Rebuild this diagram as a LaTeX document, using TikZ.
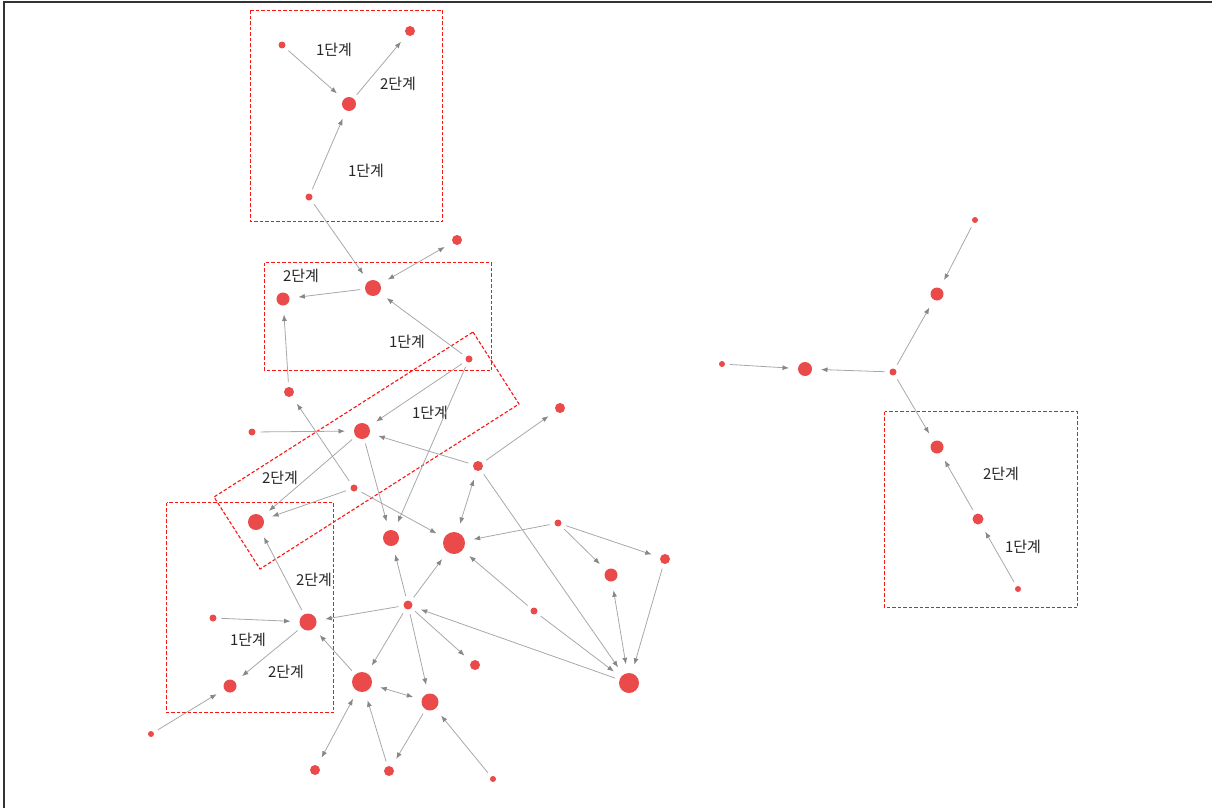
\documentclass[tikz,border=0pt]{standalone}
\usepackage{fontspec}
\setmainfont{Noto Sans CJK KR}
\usepackage{xcolor}
\usepackage{tikz}
\usetikzlibrary{arrows.meta,backgrounds}
\definecolor{dotred}{RGB}{234,74,74}
\definecolor{linkgray}{RGB}{168,168,168}
\definecolor{tipgray}{RGB}{135,135,135}
\definecolor{zonered}{RGB}{250,20,20}
\tikzset{
  gndot/.style={circle,fill=dotred,inner sep=0pt,outer sep=0pt,minimum size=#1},
  gndot/.default=7pt,
  gnlink/.style={-{Latex[length=6.5pt,width=5pt,color=tipgray]},draw=linkgray,
    line width=0.8pt,shorten <=5pt,shorten >=9pt},
  gnboth/.style={{Latex[length=6.5pt,width=5pt,color=tipgray]}-{Latex[length=6.5pt,width=5pt,color=tipgray]},
    draw=linkgray,line width=0.8pt,shorten <=9pt,shorten >=9pt},
  gnzone/.style={draw=zonered,line width=1.1pt,dash pattern=on 3.5pt off 2pt},
  gnstage/.style={inner sep=0pt,text=black!85,font=\fontsize{15}{17}\selectfont},
}

\begin{document}
\begin{tikzpicture}[x=1pt,y=-1pt]
\useasboundingbox (0,0) rectangle (1212,808);
\draw[black!80,line width=1.3pt] (4,808) -- (4,2) -- (1212,2);
\node[gndot=7pt] (a1) at (282,45) {};
\node[gndot=10pt] (a2) at (410,31) {};
\node[gndot=14pt] (a3) at (349,104) {};
\node[gndot=7pt] (a4) at (309,197) {};
\node[gndot=16pt] (b1) at (373,288) {};
\node[gndot=10pt] (b2) at (457,240) {};
\node[gndot=13pt] (b3) at (283,299) {};
\node[gndot=7pt] (b4) at (469,359) {};
\node[gndot=10pt] (b5) at (289,392) {};
\node[gndot=16pt] (c1) at (362,431) {};
\node[gndot=7pt] (c2) at (252,432) {};
\node[gndot=7pt] (c3) at (354,488) {};
\node[gndot=16pt] (c4) at (256,522) {};
\node[gndot=10pt] (c5) at (478,466) {};
\node[gndot=10pt] (c6) at (560,408) {};
\node[gndot=16pt] (c7) at (391,538) {};
\node[gndot=22pt] (c8) at (454,543) {};
\node[gndot=17pt] (d1) at (308,622) {};
\node[gndot=7pt] (d2) at (213,618) {};
\node[gndot=13pt] (d3) at (230,686) {};
\node[gndot=6pt] (d4) at (151,734) {};
\node[gndot=9pt] (e1) at (408,605) {};
\node[gndot=20pt] (e2) at (362,682) {};
\node[gndot=17pt] (e3) at (430,702) {};
\node[gndot=10pt] (e4) at (475,665) {};
\node[gndot=20pt] (e5) at (629,683) {};
\node[gndot=10pt] (e6) at (315,770) {};
\node[gndot=10pt] (e7) at (389,771) {};
\node[gndot=6pt] (e8) at (493,779) {};
\node[gndot=7pt] (e9) at (534,611) {};
\node[gndot=7pt] (e10) at (558,523) {};
\node[gndot=13pt] (e11) at (611,575) {};
\node[gndot=10pt] (e12) at (665,559) {};
\node[gndot=6pt] (f1) at (975,220) {};
\node[gndot=13pt] (f2) at (937,294) {};
\node[gndot=6pt] (f3) at (722,364) {};
\node[gndot=14pt] (f4) at (805,369) {};
\node[gndot=7pt] (f5) at (893,372) {};
\node[gndot=13pt] (f6) at (937,447) {};
\node[gndot=11pt] (f7) at (978,519) {};
\node[gndot=6pt] (f8) at (1018,589) {};
\node[gnstage] (t1) at (334,50) {1단계};
\node[gnstage] (t2) at (398,84) {2단계};
\node[gnstage] (t3) at (366,171) {1단계};
\node[gnstage] (t4) at (301,276) {2단계};
\node[gnstage] (t5) at (407,342) {1단계};
\node[gnstage] (t6) at (430,413) {1단계};
\node[gnstage] (t7) at (280,478) {2단계};
\node[gnstage] (t8) at (314,580) {2단계};
\node[gnstage] (t9) at (248,640) {1단계};
\node[gnstage] (t10) at (286,672) {2단계};
\node[gnstage] (t11) at (1001,474) {2단계};
\node[gnstage] (t12) at (1023,547) {1단계};
\draw[gnlink] (a1) -- (a3);
\draw[gnlink] (a3) -- (a2);
\draw[gnlink] (a4) -- (a3);
\draw[gnlink] (a4) -- (b1);
\draw[gnboth] (b1) -- (b2);
\draw[gnlink] (b1) -- (b3);
\draw[gnlink] (b4) -- (b1);
\draw[gnlink] (b5) -- (b3);
\draw[gnlink] (b4) -- (c1);
\draw[gnlink] (b4) -- (c7);
\draw[gnlink] (c2) -- (c1);
\draw[gnlink] (c1) -- (c4);
\draw[gnlink] (c3) -- (c4);
\draw[gnlink] (c3) -- (b5);
\draw[gnlink] (c3) -- (c8);
\draw[gnlink] (c1) -- (c7);
\draw[gnlink] (c5) -- (c1);
\draw[gnlink] (c5) -- (c6);
\draw[gnboth] (c5) -- (c8);
\draw[gnlink] (c5) -- (e5);
\draw[gnlink] (d1) -- (c4);
\draw[gnlink] (d2) -- (d1);
\draw[gnlink] (d1) -- (d3);
\draw[gnlink] (d4) -- (d3);
\draw[gnlink] (e1) -- (d1);
\draw[gnlink] (e2) -- (d1);
\draw[gnlink] (e1) -- (c7);
\draw[gnlink] (e1) -- (c8);
\draw[gnlink] (e1) -- (e2);
\draw[gnlink] (e1) -- (e3);
\draw[gnlink] (e1) -- (e4);
\draw[gnlink] (e5) -- (e1);
\draw[gnboth] (e2) -- (e3);
\draw[gnboth] (e2) -- (e6);
\draw[gnlink] (e7) -- (e2);
\draw[gnlink] (e3) -- (e7);
\draw[gnlink] (e8) -- (e3);
\draw[gnlink] (e9) -- (c8);
\draw[gnlink] (e9) -- (e5);
\draw[gnlink] (e10) -- (c8);
\draw[gnlink] (e10) -- (e11);
\draw[gnlink] (e10) -- (e12);
\draw[gnboth] (e11) -- (e5);
\draw[gnlink] (e12) -- (e5);
\draw[gnlink] (f1) -- (f2);
\draw[gnlink] (f5) -- (f2);
\draw[gnlink] (f3) -- (f4);
\draw[gnlink] (f5) -- (f4);
\draw[gnlink] (f5) -- (f6);
\draw[gnlink] (f7) -- (f6);
\draw[gnlink] (f8) -- (f7);
\begin{scope}[on background layer]
\draw[gnzone] (250.5,10.5) rectangle (442.5,221.5);
\draw[gnzone] (264.5,262.5) rectangle (491.5,370.5);
\draw[gnzone] (473,332) -- (519,404) -- (260,569) -- (214,497) -- cycle;
\draw[gnzone] (166.5,502.5) rectangle (333.5,712.5);
\draw[gnzone] (884.5,411.5) rectangle (1077.5,607.5);
\end{scope}
\end{tikzpicture}
\end{document}
